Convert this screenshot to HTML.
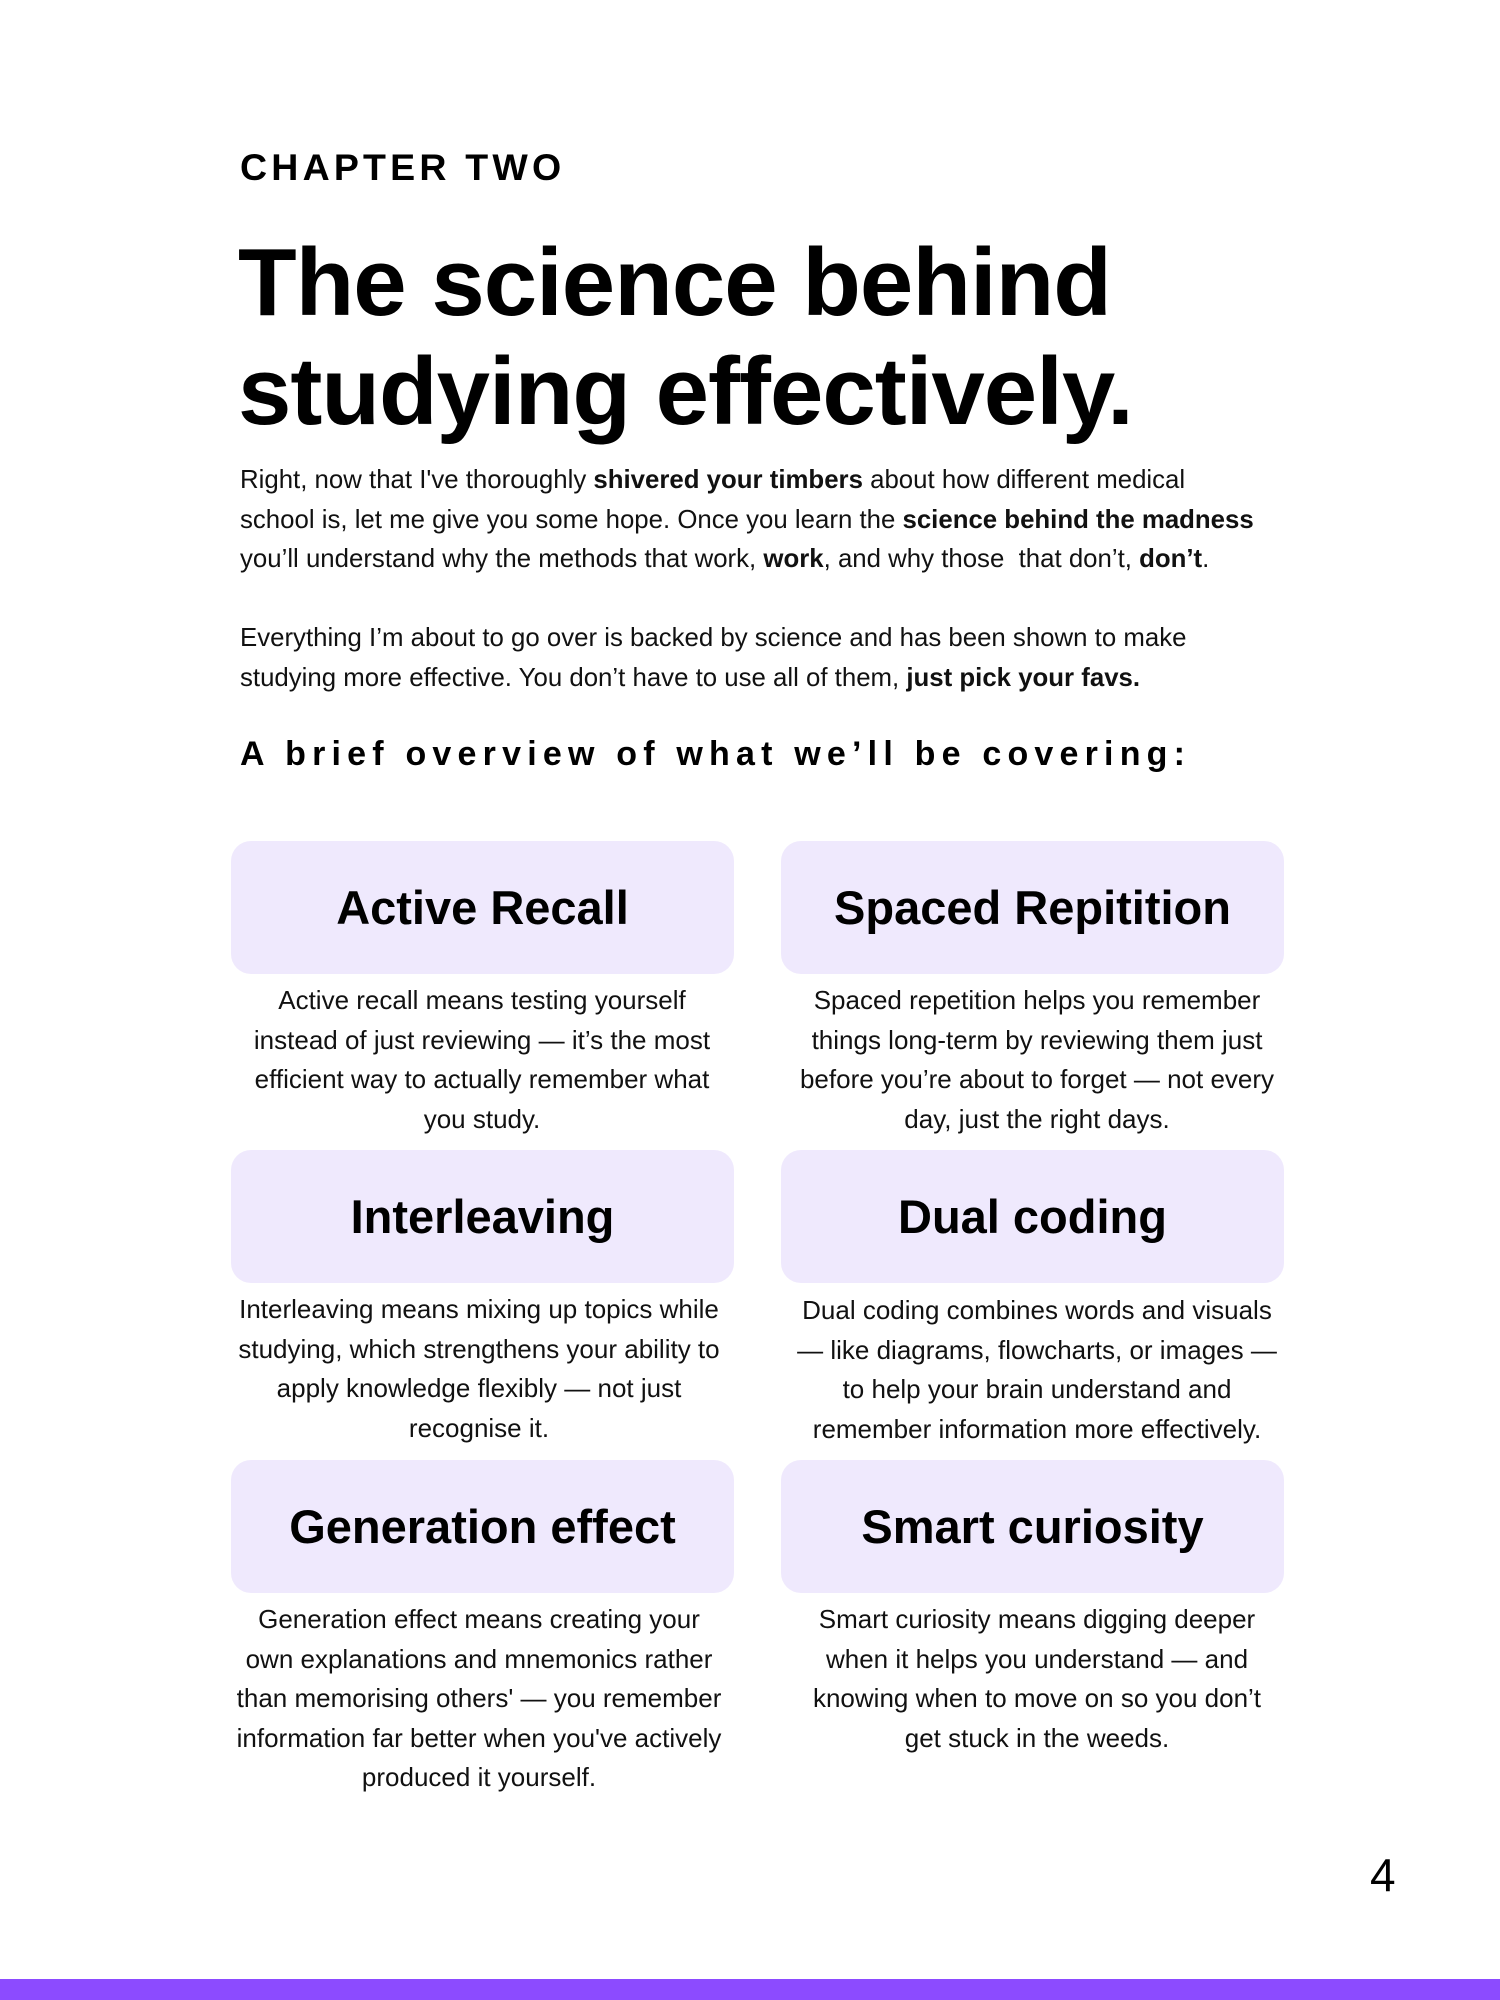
<!DOCTYPE html>
<html><head><meta charset="utf-8"><style>
body{margin:0;width:1500px;height:2000px;background:#fff;position:relative;overflow:hidden;font-family:"Liberation Sans",sans-serif;color:#000}
.a{position:absolute;white-space:nowrap}
.ch{left:240px;top:145px;font-size:37.5px;font-weight:bold;letter-spacing:4.2px;line-height:44px}
.t{left:238px;font-size:96px;font-weight:bold;line-height:108px;letter-spacing:-1px}
.p{left:240px;font-size:25.8px;line-height:39.5px;color:#111}
.sub{left:240px;top:732px;font-size:34px;font-weight:bold;letter-spacing:6.2px;line-height:44px}
.box{position:absolute;width:503px;height:133px;background:#efe9fd;border-radius:20px;display:flex;align-items:center;justify-content:center;font-size:47px;font-weight:bold}
.d{position:absolute;width:540px;text-align:center;font-size:26px;line-height:39.5px;color:#111;white-space:nowrap}
</style></head><body>
<div class="a ch">CHAPTER TWO</div>
<div class="a t" style="top:229px">The science behind</div>
<div class="a t" style="top:338px">studying effectively.</div>
<div class="a p" style="top:461px">Right, now that I've thoroughly <b>shivered your timbers</b> about how different medical<br>school is, let me give you some hope. Once you learn the <b>science behind the madness</b><br>you’ll understand why the methods that work, <b>work</b>, and why those&nbsp; that don’t, <b>don’t</b>.</div>
<div class="a p" style="top:619px">Everything I’m about to go over is backed by science and has been shown to make<br>studying more effective. You don’t have to use all of them, <b>just pick your favs.</b></div>
<div class="a sub">A brief overview of what we’ll be covering:</div>

<div class="box" style="left:231px;top:841px">Active Recall</div>
<div class="box" style="left:781px;top:841px">Spaced Repitition</div>
<div class="box" style="left:231px;top:1150px">Interleaving</div>
<div class="box" style="left:781px;top:1150px">Dual coding</div>
<div class="box" style="left:231px;top:1460px">Generation effect</div>
<div class="box" style="left:781px;top:1460px">Smart curiosity</div>

<div class="d" style="left:212px;top:981px">Active recall means testing yourself<br>instead of just reviewing — it’s the most<br>efficient way to actually remember what<br>you study.</div>
<div class="d" style="left:767px;top:981px">Spaced repetition helps you remember<br>things long-term by reviewing them just<br>before you’re about to forget — not every<br>day, just the right days.</div>
<div class="d" style="left:209px;top:1290px">Interleaving means mixing up topics while<br>studying, which strengthens your ability to<br>apply knowledge flexibly — not just<br>recognise it.</div>
<div class="d" style="left:767px;top:1291px">Dual coding combines words and visuals<br>— like diagrams, flowcharts, or images —<br>to help your brain understand and<br>remember information more effectively.</div>
<div class="d" style="left:209px;top:1600px">Generation effect means creating your<br>own explanations and mnemonics rather<br>than memorising others' — you remember<br>information far better when you've actively<br>produced it yourself.</div>
<div class="d" style="left:767px;top:1600px">Smart curiosity means digging deeper<br>when it helps you understand — and<br>knowing when to move on so you don’t<br>get stuck in the weeds.</div>

<div class="a" style="left:1370px;top:1848px;font-size:46px;line-height:54px">4</div>
<div style="position:absolute;left:0;top:1979px;width:1500px;height:21px;background:#8c4bff"></div>
</body></html>
